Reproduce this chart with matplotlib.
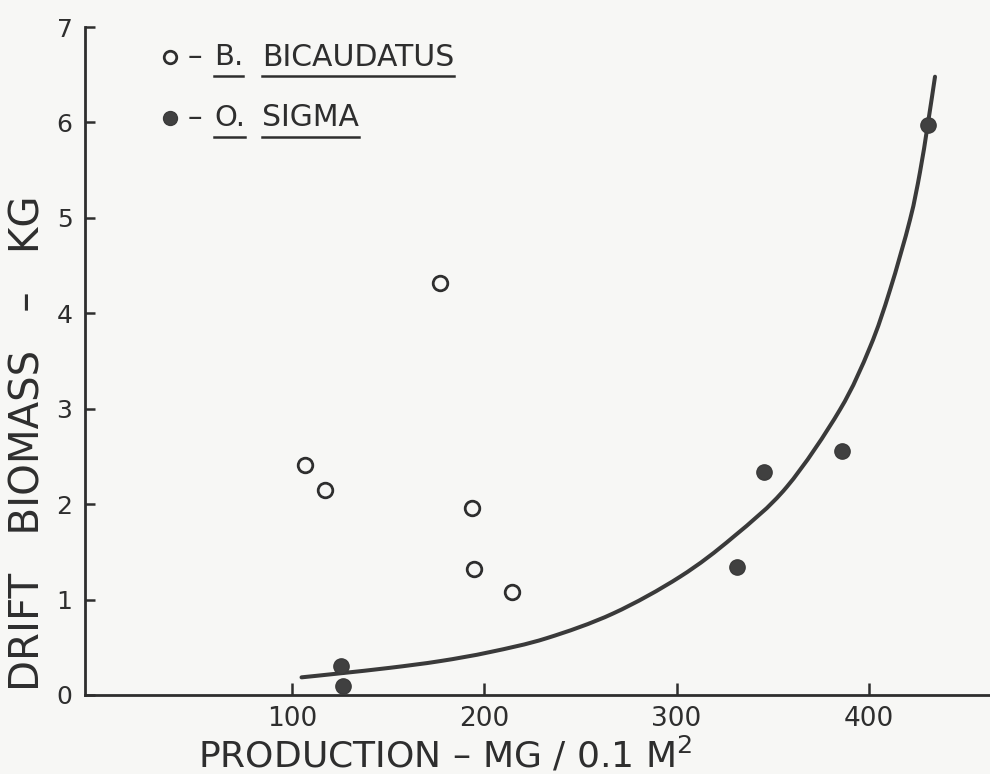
import matplotlib
matplotlib.use("Agg")
import matplotlib.pyplot as plt
from matplotlib.lines import Line2D
from matplotlib.path import Path
from matplotlib.patches import PathPatch

# ---- data ----
bicaudatus_x = [106.9, 117.2, 177.0, 193.8, 194.8, 214.6]
bicaudatus_y = [2.41, 2.15, 4.32, 1.96, 1.32, 1.08]

sigma_x = [125.3, 126.4, 331.3, 345.6, 386.0, 430.6]
sigma_y = [0.30, 0.09, 1.34, 2.34, 2.56, 5.97]

curve_x = [105.0, 125.0, 151.0, 177.0, 203.0, 232.4, 267.1, 301.8, 329.5,
           357.3, 384.9, 400.6, 411.0, 421.4, 426.6, 430.6, 434.4]
curve_y = [0.185, 0.227, 0.285, 0.355, 0.450, 0.595, 0.855, 1.239, 1.656,
           2.180, 2.987, 3.645, 4.244, 4.980, 5.480, 5.973, 6.479]

x_ticks = [100, 200, 300, 400]
y_ticks = [0, 1, 2, 3, 4, 5, 6, 7]

x_label = "PRODUCTION – MG / 0.1 M$^{2}$"
y_label = "DRIFT   BIOMASS   –   KG"
legend_names = [("B.", "BICAUDATUS"), ("O.", "SIGMA")]

# ---- style ----
ink = "#2e2e2e"
bg = "#f7f7f5"
plt.rcParams["font.family"] = ["DejaVu Sans"]
plt.rcParams["mathtext.fontset"] = "dejavusans"
plt.rcParams["mathtext.default"] = "regular"

W, H = 990, 774
fig = plt.figure(figsize=(W / 100, H / 100), dpi=100, facecolor=bg)
ax = fig.add_axes([85 / W, 1 - 695 / H, (990 - 85) / W, (695 - 27) / H])
ax.set_facecolor(bg)

ax.set_xlim(-7.6, 463)
ax.set_ylim(0, 7)

for s in ["top", "right"]:
    ax.spines[s].set_visible(False)
for s in ["left", "bottom"]:
    ax.spines[s].set_linewidth(2.0)
    ax.spines[s].set_color(ink)

ax.set_xticks(x_ticks)
ax.set_yticks(y_ticks)
ax.tick_params(axis="x", direction="in", length=9, width=1.8, color=ink,
               labelsize=19, labelcolor=ink, pad=8)
ax.tick_params(axis="y", direction="in", length=7, width=1.8, color=ink,
               labelsize=18, labelcolor=ink, pad=9)
for t in ax.get_yticklines() + ax.get_xticklines():
    t.set_clip_on(False)

# fitted curve: smooth path (Catmull-Rom as cubic Bezier) through read points
pts = list(zip(curve_x, curve_y))
verts = [pts[0]]
codes = [Path.MOVETO]
n = len(pts)
for i in range(n - 1):
    p0 = pts[i - 1] if i > 0 else pts[i]
    p1 = pts[i]
    p2 = pts[i + 1]
    p3 = pts[i + 2] if i + 2 < n else pts[i + 1]
    c1 = (p1[0] + (p2[0] - p0[0]) / 6.0, p1[1] + (p2[1] - p0[1]) / 6.0)
    c2 = (p2[0] - (p3[0] - p1[0]) / 6.0, p2[1] - (p3[1] - p1[1]) / 6.0)
    verts += [c1, c2, p2]
    codes += [Path.CURVE4, Path.CURVE4, Path.CURVE4]
ax.add_patch(PathPatch(Path(verts, codes), fill=False, edgecolor="#3a3a3a",
                       lw=2.9, capstyle="round", zorder=2, clip_on=False))

# points
ax.plot(bicaudatus_x, bicaudatus_y, ls="none", marker="o", ms=10.5,
        mfc=bg, mec=ink, mew=2.0, zorder=3, clip_on=False)
ax.plot(sigma_x, sigma_y, ls="none", marker="o", ms=11,
        mfc="#404040", mec="#3a3a3a", mew=1.0, zorder=3, clip_on=False)

# axis labels
fig.text(445 / W, 1 - 755 / H, x_label, ha="center", va="center",
         fontsize=26, color=ink)
fig.text(29 / W, 1 - 443 / H, y_label, ha="center", va="center",
         rotation=90, fontsize=29, color=ink)

# legend drawn by hand (underlined species names)
renderer = fig.canvas.get_renderer()
rows = [(57, dict(mfc=bg, mec=ink, mew=2.0, ms=9)),
        (118, dict(mfc="#404040", mec="#3a3a3a", mew=1.0, ms=10))]
for (genus, species), (ypx, mk) in zip(legend_names, rows):
    yf = 1 - ypx / H
    fig.add_artist(Line2D([170 / W], [yf], marker="o", ls="none", **mk))
    fig.text(188 / W, yf, "–", ha="left", va="center", fontsize=21, color=ink)
    tg = fig.text(214 / W, yf, genus, ha="left", va="center", fontsize=21,
                  color=ink)
    ts = fig.text(262 / W, yf, species, ha="left", va="center", fontsize=21.5,
                  color=ink)
    for t in (tg, ts):
        bb = t.get_window_extent(renderer)
        yline = (ypx + 19)
        fig.add_artist(Line2D([bb.x0 / W, bb.x1 / W],
                              [1 - yline / H, 1 - yline / H],
                              color=ink, lw=1.8))

fig.savefig("out.png", dpi=100, facecolor=bg)
